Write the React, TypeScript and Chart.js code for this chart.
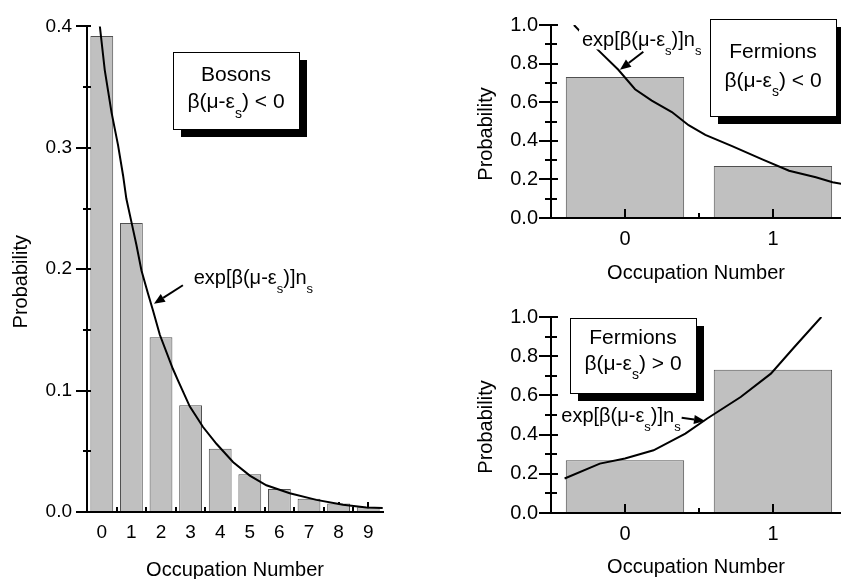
import React, { useEffect, useRef } from 'react';
import { Chart, registerables } from 'chart.js';

Chart.register(...registerables);

const FONT = "'Liberation Sans', Arial, Helvetica, sans-serif";

// ---------- Bosons ----------
const bosonN = [0, 1, 2, 3, 4, 5, 6, 7, 8, 9];
const bosonProb = [0.392, 0.238, 0.144, 0.088, 0.052, 0.031, 0.019, 0.011, 0.007, 0.004];
const bosonCurveX = [-0.07, 0.1, 0.33, 0.55, 0.72, 0.83, 1.0, 1.17, 1.34, 1.56, 1.73, 1.96, 2.4, 2.58, 2.97, 3.42, 3.88, 4.44, 5.0, 5.56, 6.35, 7.25, 8.15, 8.94, 9.49];
const bosonCurveY = [0.401, 0.364, 0.329, 0.302, 0.277, 0.258, 0.239, 0.22, 0.199, 0.18, 0.166, 0.146, 0.118, 0.108, 0.087, 0.07, 0.056, 0.041, 0.03, 0.022, 0.0155, 0.01, 0.006, 0.0037, 0.0033];
const bosonXTicks = [0, 1, 2, 3, 4, 5, 6, 7, 8, 9];
const bosonXMinor = [0.5, 1.5, 2.5, 3.5, 4.5, 5.5, 6.5, 7.5, 8.5];
const bosonYTicks = [0, 0.1, 0.2, 0.3, 0.4];
const bosonYMinor = [0.05, 0.15, 0.25, 0.35];

// ---------- Fermions ----------
const fermiN = [0, 1];
const fermiNegProb = [0.731, 0.269];
const fermiNegCurveX = [-0.345, -0.181, -0.045, 0.068, 0.181, 0.317, 0.43, 0.543, 0.724, 0.928, 1.109, 1.29, 1.403, 1.466];
const fermiNegCurveY = [1.0, 0.87, 0.768, 0.667, 0.608, 0.549, 0.481, 0.431, 0.372, 0.304, 0.245, 0.211, 0.185, 0.177];
const fermiPosProb = [0.269, 0.731];
const fermiPosCurveX = [-0.408, -0.17, 0.0, 0.193, 0.408, 0.556, 0.782, 0.986, 1.145, 1.327];
const fermiPosCurveY = [0.176, 0.252, 0.278, 0.32, 0.405, 0.482, 0.592, 0.711, 0.847, 1.0];
const fermiXTicks = [0, 1];
const fermiXMinor = [0.5];
const fermiYTicks = [0, 0.2, 0.4, 0.6, 0.8, 1.0];
const fermiYMinor = [0.1, 0.3, 0.5, 0.7, 0.9];

// ---------- Text ----------
type Seg = { t: string; sub?: boolean };
const expLabel: Seg[] = [{ t: 'exp[β(μ-ε' }, { t: 's', sub: true }, { t: ')]n' }, { t: 's', sub: true }];
const betaNeg: Seg[] = [{ t: 'β(μ-ε' }, { t: 's', sub: true }, { t: ') < 0' }];
const betaPos: Seg[] = [{ t: 'β(μ-ε' }, { t: 's', sub: true }, { t: ') > 0' }];
const bosonsTitle: Seg[] = [{ t: 'Bosons' }];
const fermionsTitle: Seg[] = [{ t: 'Fermions' }];
const X_TITLE = 'Occupation Number';
const Y_TITLE = 'Probability';

interface Box { x1: number; x2: number; y1: number; y2: number; lines: { segs: Seg[]; y: number }[] }
interface Label { segs: Seg[]; x: number; y: number; bg?: boolean }
interface Arrow { x1: number; y1: number; x2: number; y2: number }

interface Spec {
  left: number; top: number; width: number; height: number;
  area: { left: number; right: number; top: number; bottom: number };
  barX: number[]; barY: number[]; curveX: number[]; curveY: number[];
  xMin: number; xMax: number; xTicks: number[]; xMinor: number[];
  yMax: number; yTicks: number[]; yMinor: number[];
  tickFont: number; tickPadX: number; tickPadY: number; barPct: number;
  xTitlePad: number; yTitleX: number; yTitleShift: number;
  ticksOverBars: boolean; xMajorLen: number; xMinorLen: number;
  yMajorOut: number; yMajorIn: number; yMinorOut: number; yMinorIn: number;
  boxes: Box[]; labels: Label[]; arrows: Arrow[];
}

function drawRich(ctx: CanvasRenderingContext2D, segs: Seg[], cx: number, cy: number, size: number, bg?: boolean) {
  const sub = Math.round(size * 0.65);
  const ws = segs.map((s) => {
    ctx.font = `${s.sub ? sub : size}px ${FONT}`;
    return ctx.measureText(s.t).width;
  });
  const total = ws.reduce((a, b) => a + b, 0);
  let x = cx - total / 2;
  if (bg) {
    ctx.fillStyle = '#fff';
    ctx.fillRect(x - 3, cy - size * 0.55, total + 6, size * 1.0);
  }
  ctx.fillStyle = '#000';
  ctx.textAlign = 'left';
  ctx.textBaseline = 'middle';
  segs.forEach((s, i) => {
    ctx.font = `${s.sub ? sub : size}px ${FONT}`;
    ctx.fillText(s.t, x, s.sub ? cy + size * 0.55 : cy);
    x += ws[i];
  });
}

function makeDecor(spec: Spec) {
  const drawXTicks = (chart: any) => {
    const ctx = chart.ctx as CanvasRenderingContext2D;
    const xs = chart.scales.x;
    const b = chart.chartArea.bottom;
    ctx.save();
    ctx.strokeStyle = '#000';
    ctx.lineWidth = 2;
    ctx.beginPath();
    spec.xTicks.forEach((v) => {
      const p = Math.round(xs.getPixelForValue(v));
      ctx.moveTo(p, b);
      ctx.lineTo(p, b - spec.xMajorLen);
    });
    spec.xMinor.forEach((v) => {
      const p = Math.round(xs.getPixelForValue(v));
      ctx.moveTo(p, b);
      ctx.lineTo(p, b - spec.xMinorLen);
    });
    ctx.stroke();
    ctx.restore();
  };
  return {
    id: 'decor',
    beforeDatasetsDraw(chart: any) {
      if (!spec.ticksOverBars) drawXTicks(chart);
    },
    afterDatasetsDraw(chart: any) {
      if (spec.ticksOverBars) drawXTicks(chart);
    },
    afterDraw(chart: any) {
      const ctx = chart.ctx as CanvasRenderingContext2D;
      const xs = chart.scales.x;
      const ys = chart.scales.y;
      const ca = chart.chartArea;
      const X = (v: number) => xs.getPixelForValue(v);
      const Y = (v: number) => ys.getPixelForValue(v);
      ctx.save();
      // y ticks
      ctx.strokeStyle = '#000';
      ctx.lineWidth = 2;
      ctx.beginPath();
      spec.yTicks.forEach((v) => {
        const p = Math.round(Y(v));
        ctx.moveTo(ca.left - spec.yMajorOut, p);
        ctx.lineTo(ca.left + spec.yMajorIn, p);
      });
      spec.yMinor.forEach((v) => {
        const p = Math.round(Y(v));
        ctx.moveTo(ca.left - spec.yMinorOut, p);
        ctx.lineTo(ca.left + spec.yMinorIn, p);
      });
      ctx.stroke();
      // y title
      ctx.save();
      ctx.translate(spec.yTitleX, (ca.top + ca.bottom) / 2 + spec.yTitleShift);
      ctx.rotate(-Math.PI / 2);
      ctx.fillStyle = '#000';
      ctx.font = `20px ${FONT}`;
      ctx.textAlign = 'center';
      ctx.textBaseline = 'middle';
      ctx.fillText(Y_TITLE, 0, 0);
      ctx.restore();
      // boxes
      spec.boxes.forEach((bx) => {
        const l = Math.round(X(bx.x1)), r = Math.round(X(bx.x2));
        const t = Math.round(Y(bx.y1)), btm = Math.round(Y(bx.y2));
        ctx.fillStyle = '#000';
        ctx.fillRect(l + 8, t + 8, r - l, btm - t);
        ctx.fillStyle = '#fff';
        ctx.fillRect(l, t, r - l, btm - t);
        ctx.strokeStyle = '#000';
        ctx.lineWidth = 1;
        ctx.strokeRect(l + 0.5, t + 0.5, r - l, btm - t);
        const cx = (l + r) / 2;
        bx.lines.forEach((ln) => drawRich(ctx, ln.segs, cx, Y(ln.y), 21));
      });
      // labels
      spec.labels.forEach((lb) => drawRich(ctx, lb.segs, X(lb.x), Y(lb.y), 20, lb.bg));
      // arrows
      spec.arrows.forEach((a) => {
        const x1 = X(a.x1), y1 = Y(a.y1), x2 = X(a.x2), y2 = Y(a.y2);
        const ang = Math.atan2(y2 - y1, x2 - x1);
        const hl = 11, hw = 4.5;
        const bxp = x2 - hl * Math.cos(ang), byp = y2 - hl * Math.sin(ang);
        ctx.strokeStyle = '#000';
        ctx.lineWidth = 2;
        ctx.beginPath();
        ctx.moveTo(x1, y1);
        ctx.lineTo(bxp, byp);
        ctx.stroke();
        ctx.fillStyle = '#000';
        ctx.beginPath();
        ctx.moveTo(x2, y2);
        ctx.lineTo(bxp + hw * Math.sin(ang), byp - hw * Math.cos(ang));
        ctx.lineTo(bxp - hw * Math.sin(ang), byp + hw * Math.cos(ang));
        ctx.closePath();
        ctx.fill();
      });
      ctx.restore();
    },
  };
}

function buildChart(canvas: HTMLCanvasElement, spec: Spec) {
  const tickFont = { family: FONT, size: spec.tickFont };
  return new Chart(canvas, {
    type: 'bar',
    data: {
      datasets: [
        {
          type: 'line',
          data: spec.curveX.map((x, i) => ({ x, y: spec.curveY[i] })),
          borderColor: '#000',
          borderWidth: 2,
          pointRadius: 0,
          tension: 0,
          fill: false,
          order: 0,
        } as any,
        {
          type: 'bar',
          data: spec.barX.map((x, i) => ({ x, y: spec.barY[i] })),
          backgroundColor: '#c0c0c0',
          borderColor: '#505050',
          borderWidth: 1,
          borderSkipped: 'start',
          barPercentage: spec.barPct,
          categoryPercentage: 1,
          order: 1,
        } as any,
      ],
    },
    options: {
      responsive: false,
      animation: false,
      devicePixelRatio: 1,
      events: [],
      layout: {
        padding: { left: 0, top: spec.area.top, right: spec.width - spec.area.right, bottom: 0 },
      },
      plugins: { legend: { display: false }, tooltip: { enabled: false }, title: { display: false } },
      scales: {
        x: {
          type: 'linear',
          offset: false,
          min: spec.xMin,
          max: spec.xMax,
          grid: { display: false, drawTicks: false, offset: false },
          border: { display: true, color: '#000', width: 2, z: 1 } as any,
          ticks: { font: tickFont, color: '#000', padding: spec.tickPadX, maxRotation: 0, autoSkip: false },
          afterBuildTicks: (s: any) => {
            s.ticks = spec.xTicks.map((v) => ({ value: v }));
          },
          afterFit: (s: any) => {
            s.height = spec.height - spec.area.bottom;
          },
          title: {
            display: true,
            text: X_TITLE,
            color: '#000',
            font: { family: FONT, size: 20, lineHeight: 1 },
            padding: { top: 0, bottom: spec.xTitlePad },
          },
        },
        y: {
          type: 'linear',
          min: 0,
          max: spec.yMax,
          grid: { display: false, drawTicks: false },
          border: { display: true, color: '#000', width: 2, z: 1 } as any,
          ticks: {
            font: tickFont,
            color: '#000',
            padding: spec.tickPadY,
            callback: (v: any) => Number(v).toFixed(1),
          },
          afterBuildTicks: (s: any) => {
            s.ticks = spec.yTicks.map((v) => ({ value: v }));
          },
          afterFit: (s: any) => {
            s.width = spec.area.left;
          },
        },
      },
    } as any,
    plugins: [makeDecor(spec)],
  });
}

const bosonSpec: Spec = {
  left: 0, top: 0, width: 430, height: 579,
  area: { left: 87, right: 383, top: 21, bottom: 512 },
  barX: bosonN, barY: bosonProb, curveX: bosonCurveX, curveY: bosonCurveY,
  xMin: -0.5, xMax: 9.5, xTicks: bosonXTicks, xMinor: bosonXMinor,
  yMax: 0.4, yTicks: bosonYTicks, yMinor: bosonYMinor,
  tickFont: 19, tickPadX: 9, tickPadY: 15, barPct: 0.77,
  xTitlePad: -1, yTitleX: 21, yTitleShift: 12.5,
  ticksOverBars: false, xMajorLen: 10, xMinorLen: 5,
  yMajorOut: 11, yMajorIn: 4, yMinorOut: 4, yMinorIn: 4,
  boxes: [
    { x1: 2.4, x2: 6.66, y1: 0.3789, y2: 0.3154, lines: [{ segs: bosonsTitle, y: 0.3602 }, { segs: betaNeg, y: 0.3374 }] },
  ],
  labels: [{ segs: expLabel, x: 5.12, y: 0.1924 }],
  arrows: [{ x1: 2.74, y1: 0.1868, x2: 1.76, y2: 0.1715 }],
};

const fermiNegSpec: Spec = {
  left: 440, top: 0, width: 401, height: 290,
  area: { left: 111, right: 401, top: 21, bottom: 218 },
  barX: fermiN, barY: fermiNegProb, curveX: fermiNegCurveX, curveY: fermiNegCurveY,
  xMin: -0.5, xMax: 1.46, xTicks: fermiXTicks, xMinor: fermiXMinor,
  yMax: 1.0, yTicks: fermiYTicks, yMinor: fermiYMinor,
  tickFont: 20, tickPadX: 9, tickPadY: 13, barPct: 0.8,
  xTitlePad: 7, yTitleX: 46.5, yTitleShift: 12.5,
  ticksOverBars: true, xMajorLen: 9, xMinorLen: 5,
  yMajorOut: 12, yMajorIn: 7, yMinorOut: 6, yMinorIn: 6,
  boxes: [
    { x1: 0.574, x2: 1.429, y1: 1.03, y2: 0.528, lines: [{ segs: fermionsTitle, y: 0.858 }, { segs: betaNeg, y: 0.711 }] },
  ],
  labels: [{ segs: expLabel, x: 0.113, y: 0.92, bg: true }],
  arrows: [{ x1: 0.124, y1: 0.861, x2: -0.034, y2: 0.768 }],
};

const fermiPosSpec: Spec = {
  left: 440, top: 290, width: 401, height: 289,
  area: { left: 111, right: 401, top: 27, bottom: 223 },
  barX: fermiN, barY: fermiPosProb, curveX: fermiPosCurveX, curveY: fermiPosCurveY,
  xMin: -0.5, xMax: 1.46, xTicks: fermiXTicks, xMinor: fermiXMinor,
  yMax: 1.0, yTicks: fermiYTicks, yMinor: fermiYMinor,
  tickFont: 20, tickPadX: 9, tickPadY: 13, barPct: 0.8,
  xTitlePad: 1.5, yTitleX: 46.5, yTitleShift: 12,
  ticksOverBars: true, xMajorLen: 9, xMinorLen: 5,
  yMajorOut: 12, yMajorIn: 7, yMinorOut: 6, yMinorIn: 6,
  boxes: [
    { x1: -0.372, x2: 0.48, y1: 0.996, y2: 0.614, lines: [{ segs: fermionsTitle, y: 0.891 }, { segs: betaPos, y: 0.76 }] },
  ],
  labels: [{ segs: expLabel, x: -0.027, y: 0.491 }],
  arrows: [{ x1: 0.383, y1: 0.486, x2: 0.541, y2: 0.469 }],
};

function Panel({ spec }: { spec: Spec }) {
  const ref = useRef<HTMLCanvasElement | null>(null);
  useEffect(() => {
    if (!ref.current) return;
    const chart = buildChart(ref.current, spec);
    return () => chart.destroy();
  }, [spec]);
  return (
    <canvas
      ref={ref}
      width={spec.width}
      height={spec.height}
      style={{ position: 'absolute', left: spec.left, top: spec.top, width: spec.width, height: spec.height }}
    />
  );
}

export default function App() {
  return (
    <div
      style={{
        position: 'fixed',
        left: 0,
        top: 0,
        width: 841,
        height: 579,
        background: '#fff',
        overflow: 'hidden',
      }}
    >
      <Panel spec={bosonSpec} />
      <Panel spec={fermiNegSpec} />
      <Panel spec={fermiPosSpec} />
    </div>
  );
}
